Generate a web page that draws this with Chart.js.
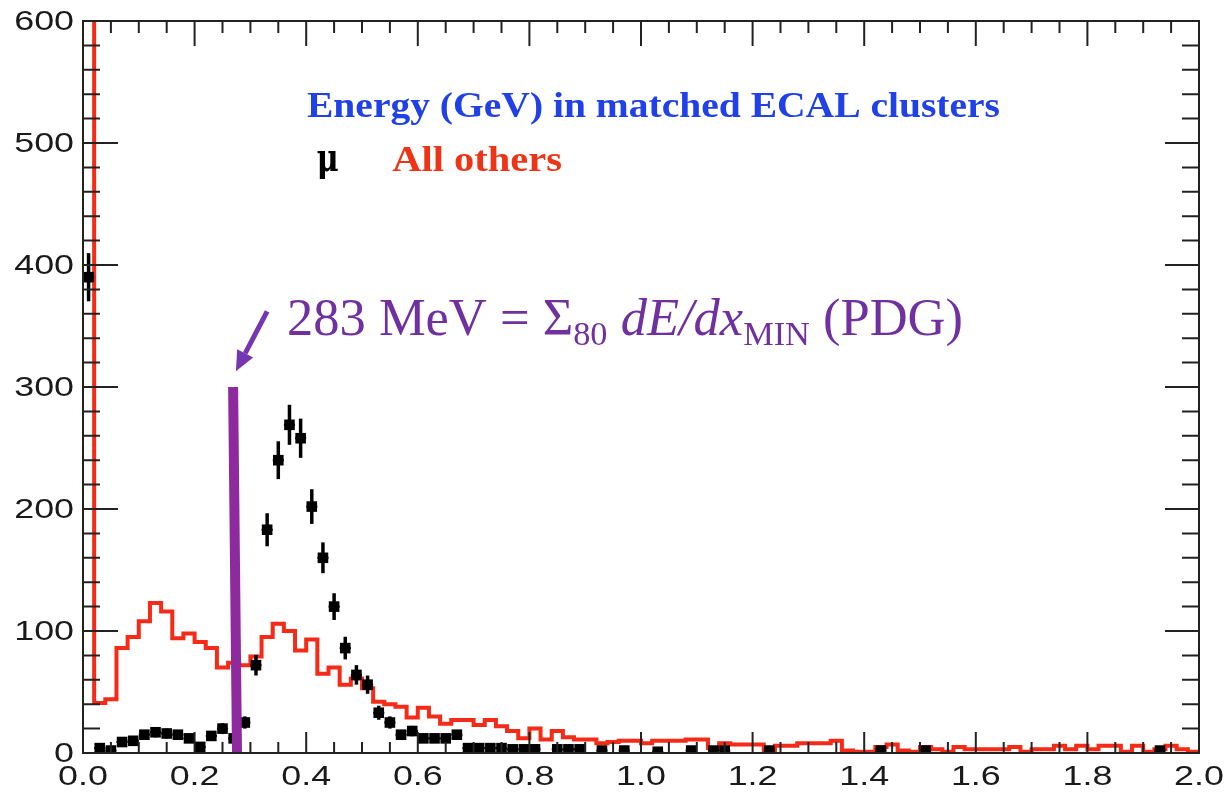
<!DOCTYPE html>
<html>
<head>
<meta charset="utf-8">
<title>Energy in matched ECAL clusters</title>
<script src="https://cdn.jsdelivr.net/npm/chart.js@4.4.1/dist/chart.umd.min.js"></script>
<style>
  html, body { margin: 0; padding: 0; background: #fff; }
</style>
</head>
<body>
<canvas id="chart" width="1228" height="796"></canvas>
<script>
// histogram binning (GeV)
const binWidth = 0.02;

// "All others" - red step histogram, one count per 0.02 GeV bin (first bin is off scale)
const othersCounts = [
  1500, 41, 44, 86, 95, 108, 123, 116, 94, 98,
  91, 86, 70, 74, 72, 79, 95, 106, 100, 84,
  93, 65, 70, 56, 61, 53, 42, 40, 38, 29,
  37, 30, 24, 27, 27, 23, 27, 22, 18, 12,
  20, 11, 18, 13, 11, 11, 8, 9, 10, 10,
  8, 10, 10, 10, 11, 11, 4, 8, 7, 7,
  7, 2, 6, 6, 8, 8, 8, 10, 2, 1,
  1, 5, 7, 2, 1, 5, 3, 1, 5, 3,
  3, 3, 3, 5, 1, 3, 3, 6, 3, 6,
  3, 6, 6, 1, 6, 1, 3, 6, 3, 1
];

// muons - black points with errors, same bins (null = empty bin)
const muonCounts = [
  390, 4, 2, 9, 10, 15, 17, 16, 15, 12,
  5, 14, 20, 12, 25, 72, 183, 240, 269, 258,
  202, 160, 120, 86, 64, 56, 33, 25, 15, 18,
  12, 12, 12, 15, 4, 4, 4, 4, 3, 3,
  3, null, 3, 3, 3, null, 2, null, 2, null,
  null, 1, null, null, 2, null, 2, 2, null, null,
  null, 2, null, null, null, null, null, null, null, null,
  null, 2, null, null, null, 2, null, null, null, null,
  null, null, null, null, null, null, null, null, null, null,
  null, null, null, null, null, null, 2, null, null, null
];

// axis ticks
const xTicks = [0, 0.2, 0.4, 0.6, 0.8, 1.0, 1.2, 1.4, 1.6, 1.8, 2.0];
const xTickLabels = ['0.0', '0.2', '0.4', '0.6', '0.8', '1.0', '1.2', '1.4', '1.6', '1.8', '2.0'];
const yTicks = [0, 100, 200, 300, 400, 500, 600];
const yTickLabels = ['0', '100', '200', '300', '400', '500', '600'];
const xMinorStep = 0.05;
const yMinorStep = 20;

// MIP line marker
const mipValue = 0.283;

// build the step line from bin low edges, plus the last upper edge
const othersLine = othersCounts.map((c, i) => ({ x: i * binWidth, y: c }));
othersLine.push({ x: othersCounts.length * binWidth, y: othersCounts[othersCounts.length - 1] });

const muonPoints = [];
muonCounts.forEach((c, i) => {
  if (c !== null) muonPoints.push({ x: (i + 0.5) * binWidth, y: c });
});

function drawFitted(ctx, parts, x, y, width) {
  let natural = 0;
  parts.forEach(p => { ctx.font = p.font; p.w = ctx.measureText(p.text).width; natural += p.w; });
  ctx.save();
  ctx.translate(x, y);
  ctx.scale(width / natural, 1);
  let cx = 0;
  parts.forEach(p => {
    ctx.font = p.font;
    ctx.fillText(p.text, cx, p.dy || 0);
    cx += p.w;
  });
  ctx.restore();
}

// error bars, MIP marker, frame with inward ticks, labels and text
const decorations = {
  id: 'decorations',
  afterDatasetsDraw(chart) {
    const ctx = chart.ctx;
    const xs = chart.scales.x, ys = chart.scales.y;
    const { left, right, top, bottom } = chart.chartArea;

    // muon error bars (poisson)
    ctx.save();
    ctx.beginPath();
    ctx.rect(left, top, right - left, bottom - top);
    ctx.clip();
    ctx.strokeStyle = '#000';
    muonPoints.forEach(p => {
      const px = xs.getPixelForValue(p.x);
      const err = Math.sqrt(p.y);
      ctx.lineWidth = 3.5;
      ctx.beginPath();
      ctx.moveTo(px, ys.getPixelForValue(p.y - err));
      ctx.lineTo(px, ys.getPixelForValue(p.y + err));
      ctx.stroke();
      ctx.lineWidth = 2;
      ctx.beginPath();
      ctx.moveTo(xs.getPixelForValue(p.x - binWidth / 2), ys.getPixelForValue(p.y));
      ctx.lineTo(xs.getPixelForValue(p.x + binWidth / 2), ys.getPixelForValue(p.y));
      ctx.stroke();
    });
    ctx.restore();

    // purple bar near the MIP value
    ctx.save();
    ctx.strokeStyle = '#8e2a9e';
    ctx.lineWidth = 10;
    ctx.beginPath();
    ctx.moveTo(xs.getPixelForValue(0.269), ys.getPixelForValue(300));
    ctx.lineTo(xs.getPixelForValue(0.276), ys.getPixelForValue(0));
    ctx.stroke();

    // arrow
    const ax1 = xs.getPixelForValue(0.330), ay1 = ys.getPixelForValue(362);
    const ax2 = xs.getPixelForValue(0.274), ay2 = ys.getPixelForValue(313);
    const ang = Math.atan2(ay2 - ay1, ax2 - ax1);
    const head = 20, hw = 9;
    const bx = ax2 - head * Math.cos(ang), by = ay2 - head * Math.sin(ang);
    ctx.strokeStyle = '#7536b2';
    ctx.fillStyle = '#7536b2';
    ctx.lineWidth = 5;
    ctx.beginPath();
    ctx.moveTo(ax1, ay1);
    ctx.lineTo(bx, by);
    ctx.stroke();
    ctx.beginPath();
    ctx.moveTo(ax2, ay2);
    ctx.lineTo(bx + hw * Math.sin(ang), by - hw * Math.cos(ang));
    ctx.lineTo(bx - hw * Math.sin(ang), by + hw * Math.cos(ang));
    ctx.closePath();
    ctx.fill();
    ctx.restore();

    // frame
    ctx.save();
    ctx.strokeStyle = '#222';
    ctx.lineWidth = 2;
    ctx.strokeRect(left, top, right - left, bottom - top);
    ctx.beginPath();
    for (let i = 1; i < Math.round(2 / xMinorStep); i++) {
      const px = xs.getPixelForValue(i * xMinorStep);
      const major = i % 4 === 0;
      ctx.moveTo(px, bottom); ctx.lineTo(px, bottom - (major ? 21 : 11));
      ctx.moveTo(px, top); ctx.lineTo(px, top + (major ? 25 : 12));
    }
    for (let i = 1; i < Math.round(600 / yMinorStep); i++) {
      const py = ys.getPixelForValue(i * yMinorStep);
      const major = i % 5 === 0;
      ctx.moveTo(left, py); ctx.lineTo(left + (major ? 35 : 17), py);
      ctx.moveTo(right, py); ctx.lineTo(right - (major ? 34 : 17), py);
    }
    ctx.stroke();

    // tick labels
    ctx.fillStyle = '#1a1a1a';
    ctx.font = '28px "Liberation Sans", Arial, sans-serif';
    ctx.textBaseline = 'middle';
    ctx.textAlign = 'right';
    yTicks.forEach((v, i) => {
      ctx.save();
      ctx.translate(left - 9, ys.getPixelForValue(v) + 1);
      ctx.scale(1.28, 1);
      ctx.fillText(yTickLabels[i], 0, 0);
      ctx.restore();
    });
    ctx.textAlign = 'center';
    xTicks.forEach((v, i) => {
      ctx.save();
      ctx.translate(xs.getPixelForValue(v), bottom + 24);
      ctx.scale(1.28, 1);
      ctx.fillText(xTickLabels[i], 0, 0);
      ctx.restore();
    });
    ctx.restore();

    // legend-like text
    ctx.save();
    ctx.textBaseline = 'alphabetic';
    ctx.textAlign = 'left';
    ctx.fillStyle = '#2040e8';
    drawFitted(ctx, [{ text: 'Energy (GeV) in matched ECAL clusters', font: 'bold 35px "Liberation Serif", serif' }],
      xs.getPixelForValue(0.4014), ys.getPixelForValue(521), 693);
    ctx.fillStyle = '#000';
    drawFitted(ctx, [{ text: '\u03bc', font: 'bold 40px "DejaVu Serif", serif' }],
      xs.getPixelForValue(0.419), ys.getPixelForValue(477), 22);
    ctx.fillStyle = '#ee3417';
    drawFitted(ctx, [{ text: 'All others', font: 'bold 35px "Liberation Serif", serif' }],
      xs.getPixelForValue(0.554), ys.getPixelForValue(477), 170);

    // annotation for the MIP energy
    ctx.fillStyle = '#7030a0';
    const big = '52px "Liberation Serif", serif';
    const small = '34px "Liberation Serif", serif';
    drawFitted(ctx, [
      { text: (mipValue * 1000).toFixed(0) + ' MeV = \u03a3', font: big },
      { text: '80', font: small, dy: 10 },
      { text: ' ', font: big },
      { text: 'dE/dx', font: 'italic ' + big },
      { text: 'MIN', font: small, dy: 10 },
      { text: ' (PDG)', font: big }
    ], xs.getPixelForValue(0.3656), ys.getPixelForValue(342.5), 676);
    ctx.restore();
  }
};

new Chart(document.getElementById('chart'), {
  type: 'line',
  data: {
    datasets: [
      {
        label: '\u03bc',
        data: muonPoints,
        showLine: false,
        pointStyle: 'rect',
        pointRadius: 7.5,
        backgroundColor: '#000',
        borderColor: '#000',
        borderWidth: 0
      },
      {
        label: 'All others',
        data: othersLine,
        stepped: 'before',
        borderColor: '#f52a17',
        borderWidth: 4,
        pointRadius: 0,
        fill: false
      }
    ]
  },
  options: {
    responsive: false,
    animation: false,
    events: [],
    layout: { padding: { top: 21, right: 29, left: 0, bottom: 0 } },
    plugins: {
      legend: { display: false },
      tooltip: { enabled: false },
      title: { display: false }
    },
    scales: {
      x: {
        type: 'linear',
        min: 0,
        max: 2,
        grid: { display: false },
        border: { display: false },
        ticks: { display: false },
        afterFit(scale) { scale.height = 43; }
      },
      y: {
        type: 'linear',
        min: 0,
        max: 600,
        grid: { display: false },
        border: { display: false },
        ticks: { display: false },
        afterFit(scale) { scale.width = 83; }
      }
    }
  },
  plugins: [decorations]
});
</script>
</body>
</html>
